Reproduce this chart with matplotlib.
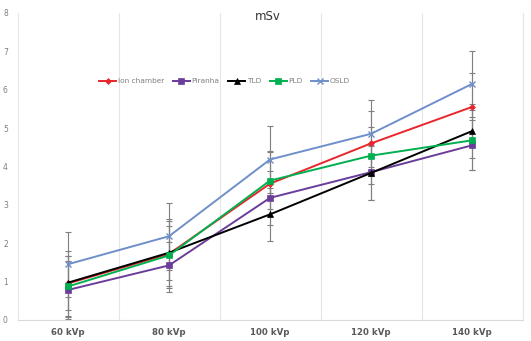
import numpy as np
import matplotlib
matplotlib.use('Agg')
import matplotlib.pyplot as plt

# data
categories = ['60 kVp', '80 kVp', '100 kVp', '120 kVp', '140 kVp']
ion_chamber = [0.95, 1.72, 3.55, 4.60, 5.55]
piranha = [0.78, 1.42, 3.18, 3.85, 4.55]
tld = [0.97, 1.75, 2.75, 3.83, 4.92]
pld = [0.87, 1.68, 3.63, 4.28, 4.68]
osld = [1.45, 2.18, 4.18, 4.85, 6.15]

ion_err = [0.85, 0.85, 0.85, 0.85, 0.88]
piranha_err = [0.75, 0.60, 0.70, 0.72, 0.65]
tld_err = [0.70, 0.70, 0.70, 0.70, 0.70]
pld_err = [0.80, 0.95, 0.75, 0.75, 0.78]
osld_err = [0.85, 0.87, 0.87, 0.87, 0.87]

series = [
    ('Ion chamber', ion_chamber, ion_err, '#e8262b', 'D', 3.0),
    ('Piranha', piranha, piranha_err, '#6a3d9a', 's', 4.0),
    ('TLD', tld, tld_err, '#000000', '^', 4.5),
    ('PLD', pld, pld_err, '#00b050', 's', 5.0),
    ('OSLD', osld, osld_err, '#6f8fc9', 'x', 5.0),
]

fig = plt.figure(figsize=(5.31, 3.41), dpi=100)
ax = fig.add_axes([0.033, 0.062, 0.951, 0.900])

x = np.arange(len(categories))
for name, vals, err, col, mk, ms in series:
    ax.errorbar(x, vals, yerr=err, fmt='none', ecolor='#7f7f7f',
                elinewidth=0.8, capsize=2.2, capthick=0.8, zorder=2)
for name, vals, err, col, mk, ms in series:
    ax.plot(x, vals, color=col, marker=mk, markersize=ms, linewidth=1.4,
            markeredgewidth=1.0 if mk == 'x' else 0.5, label=name, zorder=3)

ax.set_xlim(-0.5, len(categories) - 0.5)
ax.set_ylim(0, 8)
ax.set_yticks(range(0, 9))
ax.set_xticks(x)
ax.set_xticklabels(categories, fontsize=6.2, color='#595959', fontweight='bold')
ax.tick_params(axis='y', labelsize=5.5, colors='#7f7f7f', length=0, pad=7)
ax.tick_params(axis='x', length=0, pad=6)

# vertical gridlines between categories
ax.set_xticks(np.arange(-0.5, len(categories)), minor=True)
ax.grid(True, axis='x', which='minor', color='#e6e6e6', linewidth=0.8)
ax.tick_params(axis='x', which='minor', length=0)

for side in ['top', 'left']:
    ax.spines[side].set_visible(False)
ax.spines['bottom'].set_color('#d9d9d9')
ax.spines['right'].set_color('#e6e6e6')

fig.text(0.505, 0.952, 'mSv', ha='center', va='center', fontsize=8.5, color='#333333')

ax.legend(loc='center', bbox_to_anchor=(0.41, 0.778), ncol=5, frameon=False,
          fontsize=5.3, labelcolor='#7f7f7f', handlelength=2.3, handletextpad=0.2,
          columnspacing=1.2)

fig.savefig('out.png', dpi=100)
